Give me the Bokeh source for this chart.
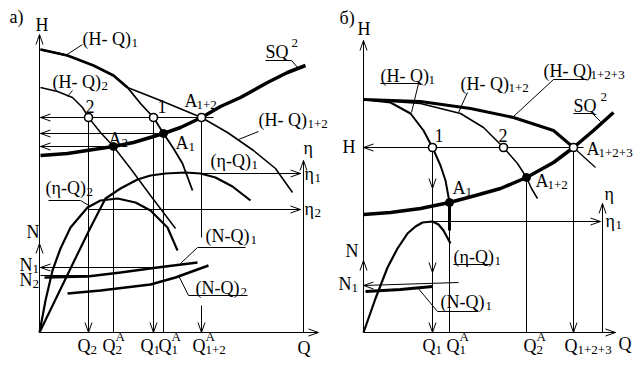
from bokeh.plotting import figure
from bokeh.models import Range1d, ColumnDataSource
from bokeh.core.properties import value
from bokeh.embed import file_html
from bokeh.resources import INLINE

FONT = "Liberation Serif"

# ---------------- panel а) : characteristic curves (drawing units, y down) ----
hq1_a_x = [40, 67, 93, 113, 127, 140, 153, 163, 173, 182, 192]
hq1_a_y = [49, 55, 65, 75, 87, 103, 117, 133, 148, 163, 190]
hq2_a_x = [40, 57, 72, 82, 88, 100, 113, 130, 150, 175]
hq2_a_y = [87, 91, 97, 107, 117, 132, 146, 168, 195, 228]
hq12_a_x = [127, 160, 201, 227, 253, 275, 292]
hq12_a_y = [87, 100, 117, 132, 150, 168, 192]
sq_a_x = [40, 67, 93, 113, 133, 153, 163, 180, 201, 220, 240, 267, 287, 305]
sq_a_y = [155, 153, 149, 146, 142, 136, 133, 127, 117, 106, 97, 82, 72, 65]
eta1_a_x = [39, 70, 90, 105, 120, 137, 150, 165, 185, 200, 215, 232, 250]
eta1_a_y = [332, 268, 227, 198, 188, 179, 175, 173, 172, 173, 177, 186, 200]
eta2_a_x = [39, 45, 52, 60, 70, 87, 100, 117, 135, 150, 167, 177]
eta2_a_y = [332, 300, 270, 248, 227, 207, 200, 198, 202, 210, 227, 250]
nq1_a_x = [44, 87, 120, 157, 197]
nq1_a_y = [277, 276, 272, 267, 262]
nq2_a_x = [67, 100, 150, 175, 208]
nq2_a_y = [293, 290, 284, 277, 265]

# ---------------- panel б) ----
hq1_b_x = [363, 390, 410, 423, 432, 440, 445, 449]
hq1_b_y = [99, 102, 113, 130, 147, 165, 180, 202]
hq12_b_x = [363, 420, 460, 483, 503, 517, 526, 531, 537]
hq12_b_y = [99, 103, 113, 127, 147, 163, 177, 188, 198]
hq123_b_x = [363, 420, 470, 513, 553, 573]
hq123_b_y = [99, 101, 108, 117, 130, 147]
hq123_tail_x = [573, 595]
hq123_tail_y = [147, 167]
sq_b_x = [363, 390, 420, 449, 475, 500, 526, 553, 573, 593, 613]
sq_b_y = [214, 212, 208, 202, 195, 188, 177, 162, 147, 130, 112]
eta1_b_x = [363, 375, 387, 397, 407, 415, 422, 432, 438, 443, 450]
eta1_b_y = [332, 298, 267, 248, 233, 226, 222, 221, 224, 230, 243]
nq1_b_x = [365, 400, 432]
nq1_b_y = [291, 289, 286]

# ---------------- operating points ----
open_pt_x = [88, 153, 201, 432, 503, 573]
open_pt_y = [117, 117, 117, 147, 147, 147]
solid_pt_x = [113, 163, 449, 526]
solid_pt_y = [146, 133, 202, 177]

# ---------------- thin guide lines: x0, y0, x1, y1 ----
guide_x0 = [39, 39, 303, 40, 40, 40, 200, 88, 40, 40, 88, 113, 153, 163, 201, 201,
            363, 363, 602, 363, 432, 363, 432, 449, 526, 573]
guide_y0 = [35, 332, 160, 117, 133, 146, 173, 209, 267, 275, 117, 146, 117, 133, 117, 305,
            40, 332, 203, 147, 221, 285, 147, 202, 177, 147]
guide_x1 = [39, 318, 303, 213, 163, 113, 300, 300, 160, 87, 88, 113, 153, 163, 201, 201,
            363, 615, 602, 583, 600, 458, 432, 449, 526, 573]
guide_y1 = [332, 332, 332, 117, 133, 146, 173, 209, 267, 275, 332, 332, 332, 332, 237, 332,
            332, 332, 332, 147, 221, 282, 332, 332, 332, 332]

# ---------------- arrow tips (x, y, direction) ----
tip_x = [39, 318, 303, 40, 40, 40, 300, 300, 39, 40, 88, 153, 201,
         363, 615, 602, 363, 600, 363, 363, 432, 432, 432, 573]
tip_y = [34, 332, 160, 117, 133, 146, 173, 209, 243, 267, 332, 332, 332,
         40, 332, 203, 147, 221, 260, 285, 188, 272, 332, 332]
tip_dir = ["U", "R", "U", "L", "L", "L", "R", "R", "U", "L", "D", "D", "D",
           "U", "R", "U", "L", "R", "U", "L", "D", "D", "D", "D"]

# ---------------- label leader lines ----
leader_xs = [[65, 82], [67, 72], [265, 291, 298], [238, 258], [48, 80, 90],
             [180, 197, 245], [178, 188, 247],
             [380, 420], [418, 411], [467, 458], [587, 553, 513],
             [573, 592, 600], [453, 490], [417, 437, 478]]
leader_ys = [[55, 44], [96, 90], [60, 60, 68], [139, 131], [200, 200, 206],
             [263, 247, 247], [275, 295, 295],
             [83, 83], [83, 112], [92, 112], [79, 79, 116],
             [113, 113, 121], [264, 264], [287, 311, 311]]

# ---------------- labels: main text, baseline, subscript and superscript ----
lab_main = ["а)", "H", "(H- Q)", "(H- Q)", "SQ", "A", "1", "2", "A", "A", "(H- Q)",
            "η", "(η-Q)", "η", "(η-Q)", "η", "N", "N", "N", "(N-Q)", "(N-Q)",
            "Q", "Q", "Q", "Q", "Q", "Q",
            "б)", "H", "(H- Q)", "(H- Q)", "(H- Q)", "SQ", "1", "2", "H", "A", "A", "A",
            "η", "η", "(η-Q)", "N", "N", "(N-Q)",
            "Q", "Q", "Q", "Q", "Q"]
lab_x = [9, 35, 82, 52, 265, 184, 157, 85, 108, 175, 258,
         303, 210, 304, 45, 304, 26, 19, 19, 205, 195,
         77, 102, 140, 158, 192, 297,
         339, 357, 380, 460, 543, 573, 434, 498, 342, 586, 535, 452,
         604, 605, 453, 345, 338, 440,
         422, 446, 523, 564, 618]
lab_y = [22, 30, 44, 87, 57, 106, 112, 112, 144, 148, 125,
         153, 166, 179, 193, 214, 237, 270, 285, 241, 293,
         351, 351, 351, 351, 351, 353,
         23, 34, 81, 89, 76, 111, 141, 141, 152, 154, 186, 193,
         199, 226, 262, 256, 289, 307,
         351, 351, 351, 351, 349]
lab_sub = ["", "", "1", "2", "", "1+2", "", "", "2", "1", "1+2",
           "", "1", "1", "2", "2", "", "1", "2", "1", "2",
           "2", "2", "1", "1", "1+2", "",
           "", "", "1", "1+2", "1+2+3", "", "", "", "", "1+2+3", "1+2", "1",
           "", "1", "1", "", "1", "1",
           "1", "1", "2", "1+2+3", ""]
lab_sub_x = [0, 0, 131, 101, 0, 196, 0, 0, 121, 188, 307,
             0, 251, 314, 86, 314, 0, 32, 32, 250, 240,
             90, 115, 153, 171, 205, 0,
             0, 0, 428, 508, 590, 0, 0, 0, 0, 598, 547, 465,
             0, 615, 494, 0, 351, 485,
             435, 459, 536, 577, 0]
lab_sup = ["", "", "", "", "2", "", "", "", "", "", "",
           "", "", "", "", "", "", "", "", "", "",
           "", "A", "", "A", "A", "",
           "", "", "", "", "", "2", "", "", "", "", "", "",
           "", "", "", "", "", "",
           "", "A", "A", "", ""]
lab_sup_x = [0, 0, 0, 0, 291, 0, 0, 0, 0, 0, 0,
             0, 0, 0, 0, 0, 0, 0, 0, 0, 0,
             0, 115, 0, 171, 205, 0,
             0, 0, 0, 0, 0, 600, 0, 0, 0, 0, 0, 0,
             0, 0, 0, 0, 0, 0,
             0, 459, 536, 0, 0]

TEXT_DY = -6      # browser places the glyph box a little low; pull texts up
SUB_DY = 4        # subscript baseline below the main baseline
SUP_DY = -9       # superscript baseline above the main baseline


def arrow_heads(xs, ys, dirs, length=10.0, half=3.5):
    hx, hy = [], []
    vec = {"U": (0, 1), "D": (0, -1), "L": (1, 0), "R": (-1, 0)}
    for x, y, d in zip(xs, ys, dirs):
        bx, by = vec[d]
        px, py = -by, bx
        hx.append([x + bx * length + px * half, x, x + bx * length - px * half])
        hy.append([y + by * length + py * half, y, y + by * length - py * half])
    return hx, hy


p = figure(width=644, height=380, output_backend="svg", toolbar_location=None,
           x_range=Range1d(0, 644), y_range=Range1d(380, 0), min_border=0)
p.axis.visible = False
p.grid.visible = False
p.outline_line_color = None
p.background_fill_color = "white"
p.border_fill_color = "white"

# guide lines
p.segment(x0=guide_x0, y0=guide_y0, x1=guide_x1, y1=guide_y1,
          line_color="black", line_width=1)

# head curves
p.line(hq1_a_x, hq1_a_y, line_color="black", line_width=1.8)
p.line(hq1_a_x[:5], hq1_a_y[:5], line_color="black", line_width=2.6)
p.line(hq2_a_x, hq2_a_y, line_color="black", line_width=1.5)
p.line(hq12_a_x, hq12_a_y, line_color="black", line_width=1.6)
p.line(sq_a_x, sq_a_y, line_color="black", line_width=3.5)
p.line(eta1_a_x, eta1_a_y, line_color="black", line_width=2.2)
p.line(eta2_a_x, eta2_a_y, line_color="black", line_width=2.2)
p.line(nq1_a_x, nq1_a_y, line_color="black", line_width=2.6)
p.line(nq2_a_x, nq2_a_y, line_color="black", line_width=2.6)

p.line(hq1_b_x, hq1_b_y, line_color="black", line_width=2.0)
p.line(hq12_b_x, hq12_b_y, line_color="black", line_width=1.5)
p.line(hq123_b_x, hq123_b_y, line_color="black", line_width=3.0)
p.line(hq123_tail_x, hq123_tail_y, line_color="black", line_width=1.2)
p.line(sq_b_x, sq_b_y, line_color="black", line_width=3.5)
p.line(eta1_b_x, eta1_b_y, line_color="black", line_width=2.2)
p.line(nq1_b_x, nq1_b_y, line_color="black", line_width=3.0)
p.line([solid_pt_x[2], solid_pt_x[2]], [solid_pt_y[2], solid_pt_y[2] + 28],
       line_color="black", line_width=3.0)

# leaders
p.multi_line(xs=leader_xs, ys=leader_ys, line_color="black", line_width=1)

# arrowheads
ahx, ahy = arrow_heads(tip_x, tip_y, tip_dir)
p.multi_line(xs=ahx, ys=ahy, line_color="black", line_width=1)

# points
p.scatter(open_pt_x, open_pt_y, marker="circle", size=8, fill_color="white",
          line_color="black", line_width=1.6)
p.scatter(solid_pt_x, solid_pt_y, marker="circle", size=8, fill_color="black",
          line_color="black")

# texts
main_src = ColumnDataSource(dict(x=lab_x, y=[v + TEXT_DY for v in lab_y], t=lab_main))
p.text(x="x", y="y", text="t", source=main_src, text_font=value(FONT),
       text_font_size="18px", text_color="black", text_baseline="alphabetic",
       text_align="left")

sub_idx = [i for i, s in enumerate(lab_sub) if s]
sub_src = ColumnDataSource(dict(x=[lab_sub_x[i] for i in sub_idx],
                                y=[lab_y[i] + TEXT_DY + SUB_DY for i in sub_idx],
                                t=[lab_sub[i] for i in sub_idx]))
p.text(x="x", y="y", text="t", source=sub_src, text_font=value(FONT),
       text_font_size="13px", text_color="black", text_baseline="alphabetic",
       text_align="left")

sup_idx = [i for i, s in enumerate(lab_sup) if s]
sup_src = ColumnDataSource(dict(x=[lab_sup_x[i] for i in sup_idx],
                                y=[lab_y[i] + TEXT_DY + SUP_DY for i in sup_idx],
                                t=[lab_sup[i] for i in sup_idx]))
p.text(x="x", y="y", text="t", source=sup_src, text_font=value(FONT),
       text_font_size="13px", text_color="black", text_baseline="alphabetic",
       text_align="left")

open("out.html", "w").write(file_html(p, INLINE))
